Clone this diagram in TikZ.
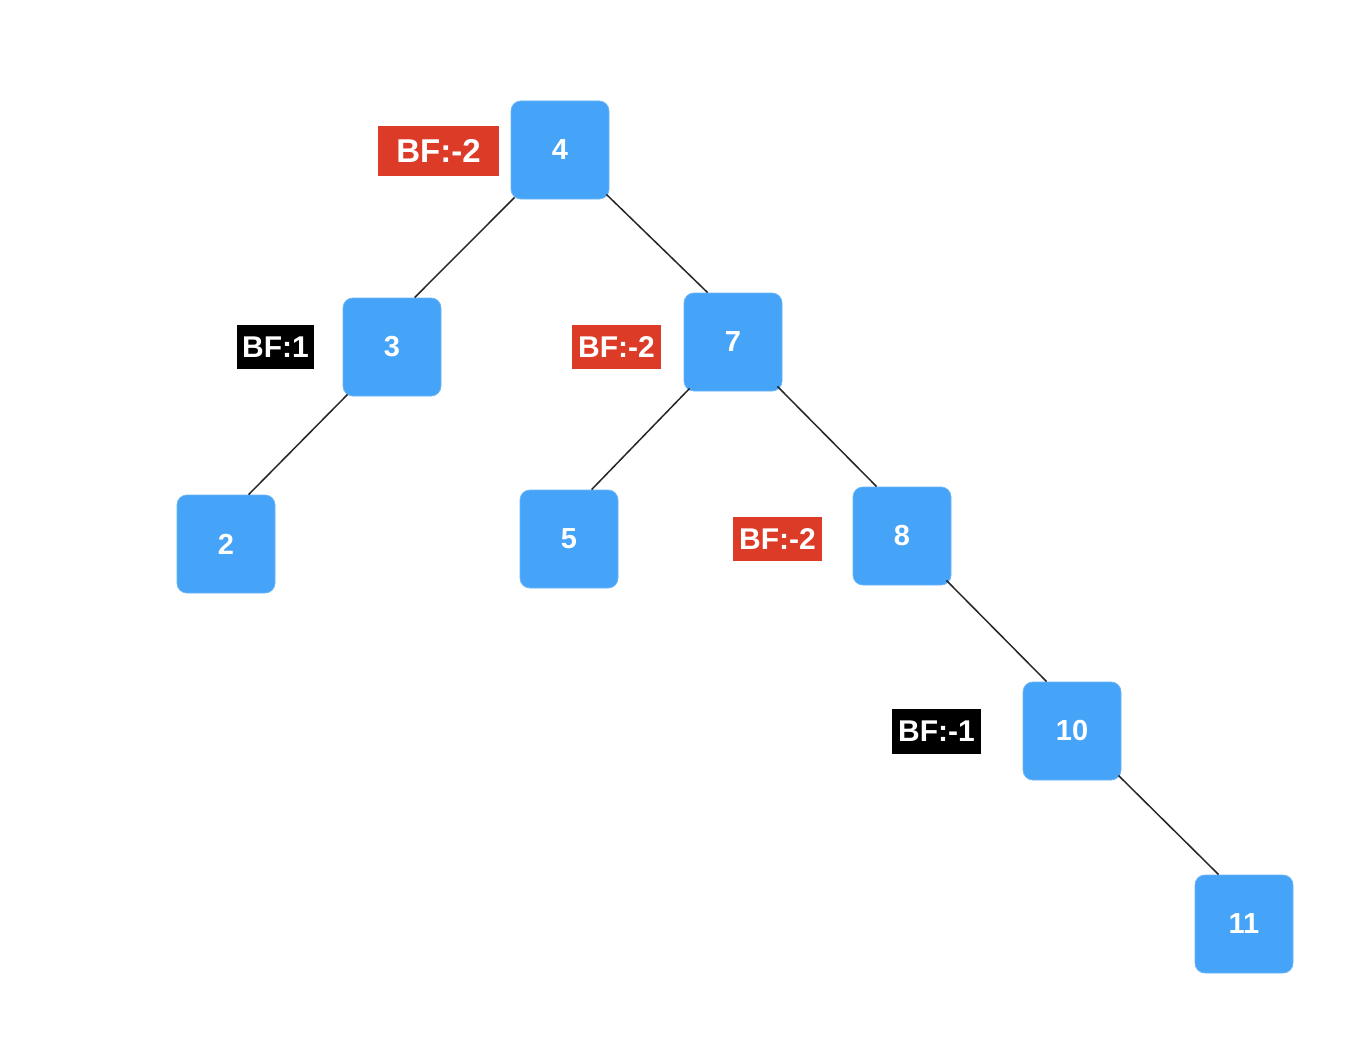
\documentclass[tikz,border=0pt]{standalone}
\usepackage{fontspec}
\setmainfont{Liberation Sans}
\usetikzlibrary{calc}
\definecolor{nodeblue}{RGB}{69,163,248}
\definecolor{bfred}{RGB}{219,59,39}
\tikzset{
  treenode/.style={fill=nodeblue, draw=nodeblue!80!white, line width=0.8pt, rounded corners=10pt,
    minimum width=98pt, minimum height=98pt, inner sep=0pt, text=white,
    font=\bfseries\fontsize{29}{29}\selectfont},
  bflabel/.style={inner sep=0pt, text=white, font=\bfseries\fontsize{30}{30}\selectfont,
    minimum width=89pt, minimum height=44pt},
  redlab/.style={bflabel, fill=bfred},
  blacklab/.style={bflabel, fill=black},
  edge/.style={draw=black!85, line width=1.5pt}
}
\begin{document}
\begin{tikzpicture}[x=1pt,y=-1pt]
\useasboundingbox[fill=white] (0,0) rectangle (1348,1038);
\node[treenode] (n4) at (560,150) {4};
\node[treenode] (n3) at (392,347) {3};
\node[treenode] (n7) at (733,342) {7};
\node[treenode] (n2) at (226,544) {2};
\node[treenode] (n5) at (569,539) {5};
\node[treenode] (n8) at (902,536) {8};
\node[treenode] (n10) at (1072,731) {10};
\node[treenode] (n11) at (1244,924) {11};

\node[redlab, minimum width=121pt, minimum height=50pt, font=\bfseries\fontsize{33}{33}\selectfont] (b4) at (438.5,151) {BF:-2};
\node[blacklab, minimum width=77pt] (b3) at (275.5,347) {BF:1};
\node[redlab] (b7) at (616.5,347) {BF:-2};
\node[redlab] (b8) at (777.5,539) {BF:-2};
\node[blacklab, minimum height=45pt] (b10) at (936.5,731.5) {BF:-1};

\draw[edge] ($(n4.south west)+(4pt,2pt)$) -- ($(n3.north west)+(72pt,0pt)$);
\draw[edge] ($(n4.south east)+(-3pt,5pt)$) -- ($(n7.north west)+(24pt,0pt)$);
\draw[edge] ($(n3.south west)+(5pt,2pt)$) -- ($(n2.north west)+(72pt,0pt)$);
\draw[edge] ($(n7.south west)+(6pt,3pt)$) -- ($(n5.north west)+(72pt,0pt)$);
\draw[edge] ($(n7.south east)+(-5pt,5pt)$) -- ($(n8.north west)+(24pt,0pt)$);
\draw[edge] ($(n8.south east)+(-5pt,5pt)$) -- ($(n10.north west)+(24pt,0pt)$);
\draw[edge] ($(n10.south east)+(-3pt,5pt)$) -- ($(n11.north west)+(24pt,0pt)$);
\end{tikzpicture}
\end{document}
